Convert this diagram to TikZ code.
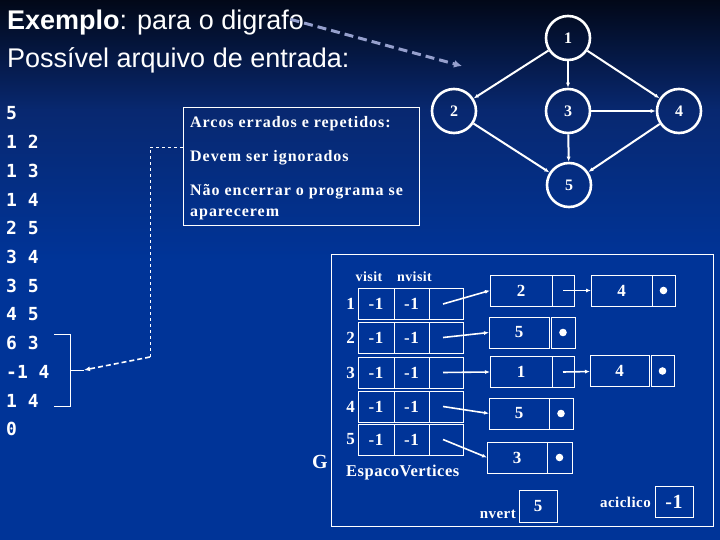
\documentclass[tikz,border=0pt]{standalone}
\usepackage{fontspec}
\usepackage{xcolor}
\usepackage{tikz}
\usetikzlibrary{positioning,arrows.meta}
\setmainfont{Liberation Serif}
\newfontfamily\titlefont{Liberation Sans}
\newfontfamily\filefont{DejaVu Sans Mono}
\newfontfamily\notefont{Liberation Serif}[LetterSpace=6]
\newfontfamily\datafont{Liberation Serif}[LetterSpace=3]
\definecolor{bgtop}{RGB}{2,8,24}
\definecolor{bgmid}{RGB}{8,40,112}
\definecolor{bgbot}{RGB}{0,52,152}
\definecolor{hint}{RGB}{150,160,205}

\begin{document}
\begin{tikzpicture}[x=1pt, y=-1pt,
  txt/.style={text=white, inner sep=0pt},
  vtx/.style={circle, draw=white, line width=2.6pt, minimum size=44pt, inner sep=0pt, text=white, font=\bfseries\fontsize{16}{16}\selectfont},
  arcline/.style={white, line width=2pt, -{Latex[length=5pt,width=4pt]}},
  cell/.style={draw=white, line width=0.8pt, minimum height=31pt, inner sep=0pt, outer sep=0pt, text=white, font=\datafont\bfseries\fontsize{17}{17}\selectfont},
  ptr/.style={white, line width=1.6pt, -{Latex[length=5pt,width=4pt]}},
  notetxt/.style={txt, anchor=base west, font=\notefont\bfseries\fontsize{16}{16}\selectfont},
  datatxt/.style={txt, font=\datafont\bfseries\fontsize{15}{15}\selectfont},
]
% background
\useasboundingbox (0,0) rectangle (720,540);
\fill[bgbot] (0,0) rectangle (720,540);
\shade[top color=bgtop, bottom color=bgmid] (0,0) rectangle (720,110);
\shade[top color=bgmid, bottom color=bgbot] (0,110) rectangle (720,260);
% title
\node[txt, anchor=base west, font=\titlefont\fontsize{27}{27}\selectfont] (title1) at (7,30) {\textbf{Exemplo}: para o digrafo};
\node[txt, anchor=base west, font=\titlefont\fontsize{27}{27}\selectfont] (title2) at (7,68) {Possível arquivo de entrada:};
\coordinate (hintend) at (462,66);
\draw[hint, line width=3pt, dash pattern=on 9pt off 5pt, shorten <=-14pt, -{Latex[length=8pt,width=8pt]}] (title1.east) -- (hintend);
% digraph
\node[vtx] (v1) at (568,38) {1};
\node[vtx] (v2) at (454,111) {2};
\node[vtx] (v3) at (568,111) {3};
\node[vtx] (v4) at (679,111) {4};
\node[vtx] (v5) at (569,185) {5};
\foreach \a/\b in {1/2,1/3,1/4,2/5,3/4,3/5,4/5}
  \draw[arcline] (v\a) -- (v\b);
% input file
\foreach \t [count=\k] in {5,1 2,1 3,1 4,2 5,3 4,3 5,4 5,6 3,-1 4,1 4,0}
  \node[txt, anchor=base west, font=\filefont\bfseries\fontsize{18}{18}\selectfont] (in\k) at (6,{120+28.7*(\k-1)}) {\t};
\draw[white, line width=0.8pt] (54,334) -| (70,406) -- (54,406);
\coordinate (brk) at (84,370);
\draw[white, line width=0.8pt] (70,370) -- (brk);
% note box
\node[draw=white, line width=0.8pt, minimum width=236pt, minimum height=118pt, inner sep=0pt] (note) at (301,166) {};
\node[notetxt] (n1) at (190,128) {Arcos errados e repetidos:};
\node[notetxt] (n2) at (190,162) {Devem ser ignorados};
\node[notetxt] (n3) at (190,196) {Não encerrar o programa se};
\node[notetxt] (n4) at (190,216) {aparecerem};
\coordinate (bend) at (150,357);
\draw[white, line width=0.8pt, dashed] ([yshift=19pt]note.west) -| (bend);
\draw[white, line width=1.6pt, dash pattern=on 5pt off 3pt, -{Latex[length=6pt,width=5pt]}] (bend) -- (brk);
% structure G
\draw[white, line width=0.8pt] (331,254) rectangle (713,526);
\node[txt, font=\datafont\bfseries\fontsize{14}{14}\selectfont] (hvisit) at (369,277) {visit};
\node[txt, font=\datafont\bfseries\fontsize{14}{14}\selectfont] (hnvisit) at (414.5,277) {nvisit};
\foreach \i/\y in {1/304,2/337.5,3/372.5,4/406.5,5/439.5} {
  \node[cell, minimum width=36pt] (vis\i) at (376,\y) {-1};
  \node[cell, minimum width=35pt, right=0pt of vis\i] (nvis\i) {-1};
  \node[cell, minimum width=34pt, right=0pt of nvis\i] (slot\i) {};
  \node[txt, font=\datafont\bfseries\fontsize{17}{17}\selectfont, left=3pt of vis\i] (idx\i) {\i};
}
\node[txt, font=\datafont\bfseries\fontsize{20}{20}\selectfont] (gname) at (320,462) {G};
\node[datatxt, font=\datafont\bfseries\fontsize{16.5}{16.5}\selectfont, anchor=base west] (espaco) at (346,476) {EspacoVertices};
% adjacency lists
\node[cell, minimum width=62pt] (a1) at (521,290.5) {2};
\node[cell, minimum width=22pt, right=0pt of a1] (b1) {};
\node[cell, minimum width=61pt] (c1) at (621.5,290.5) {4};
\node[cell, minimum width=23pt, right=0pt of c1] (d1) {};
\node[cell, minimum width=60pt] (a2) at (519,332.5) {5};
\node[cell, minimum width=24pt, right=2pt of a2] (b2) {};
\node[cell, minimum width=62pt] (a3) at (521,372) {1};
\node[cell, minimum width=22pt, right=0pt of a3] (b3) {};
\node[cell, minimum width=59pt] (c3) at (619.5,371) {4};
\node[cell, minimum width=23pt, right=2pt of c3] (d3) {};
\node[cell, minimum width=60pt] (a4) at (519,413.5) {5};
\node[cell, minimum width=24pt, right=0pt of a4] (b4) {};
\node[cell, minimum width=60pt] (a5) at (517,457.5) {3};
\node[cell, minimum width=25pt, right=0pt of a5] (b5) {};
\foreach \n in {d1,b2,d3,b4,b5}
  \fill[white] (\n.center) circle (3.8pt);
\draw[ptr] (b1.center) -- (c1);
\draw[ptr] (b3.center) -- (c3);
\foreach \i in {1,...,5}
  \draw[ptr] ([xshift=-3pt]slot\i.center) -- (a\i.west);
% counters
\node[cell, minimum width=38pt, minimum height=32pt] (nv) at (538,506) {5};
\node[datatxt, anchor=base east] (nvlbl) at (516,518) {nvert};
\node[cell, minimum width=38pt, font=\datafont\bfseries\fontsize{20}{20}\selectfont] (acy) at (674,501.5) {-1};
\node[datatxt, anchor=base east] (acylbl) at (651,507) {aciclico};
\end{tikzpicture}
\end{document}
